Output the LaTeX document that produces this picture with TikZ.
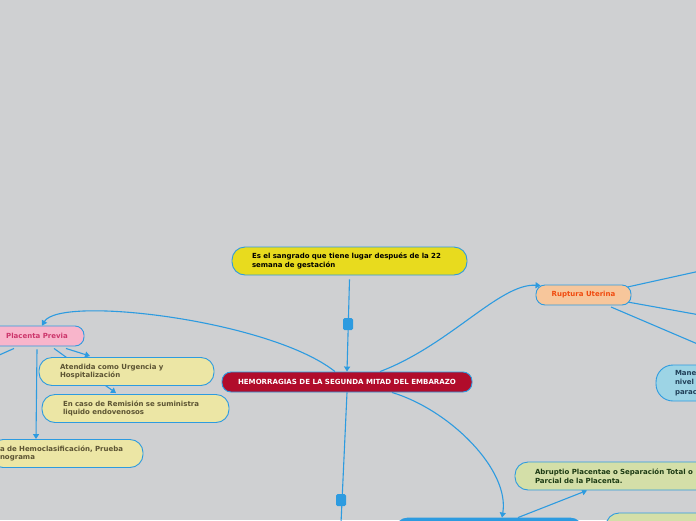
\documentclass[tikz,border=0pt]{standalone}
\usepackage{fontspec}
\setmainfont{DejaVu Sans}
\usetikzlibrary{arrows.meta,calc}
\definecolor{bgc}{HTML}{CFD0D2}
\definecolor{lb}{HTML}{2D9BE0}
\definecolor{yel}{HTML}{E8DB1E}
\definecolor{redm}{HTML}{B10C2B}
\definecolor{pinkf}{HTML}{F8B5CB}
\definecolor{pinkt}{HTML}{CC356B}
\definecolor{crem}{HTML}{ECE6A5}
\definecolor{cremt}{HTML}{5C5433}
\definecolor{orf}{HTML}{F7C69B}
\definecolor{ort}{HTML}{F04B0F}
\definecolor{bluf}{HTML}{9DD4E5}
\definecolor{blut}{HTML}{203F58}
\definecolor{grf}{HTML}{D4DFA8}
\definecolor{grt}{HTML}{1C3A13}
\pgfdeclarelayer{bgfill}
\pgfdeclarelayer{bgline}
\pgfsetlayers{bgfill,bgline,main}
\tikzset{
  box/.style={draw=lb, line width=0.9pt, inner ysep=0pt, align=left,
    font=\bfseries\fontsize{7}{8.5}\selectfont},
  tall/.style={minimum height=28pt, rounded corners=13pt},
  short/.style={minimum height=20pt, rounded corners=9pt, align=center},
  conn/.style={draw=lb, line width=1.1pt, -{Triangle[length=5pt,width=6pt]}},
  plain/.style={draw=lb, line width=1.1pt},
  marker/.style={fill=lb, draw=none, rounded corners=1.5pt, minimum width=10pt, minimum height=12pt, inner sep=0pt},
}
\begin{document}
\begin{tikzpicture}[x=1pt,y=-1pt]
\begin{pgfonlayer}{bgfill}
\fill[bgc] (0,0) rectangle (696,520);
\end{pgfonlayer}
\useasboundingbox (0,0) rectangle (696,520);

% nodes
\node[box,tall,fill=yel,text=black,inner xsep=20pt,text width=195pt] (yellow) at (349.5,261)
  {Es el sangrado que tiene lugar después de la 22\\semana de gestación};
\node[box,short,fill=redm,text=white,minimum width=250pt,font=\bfseries\fontsize{7.05}{8}\selectfont] (main) at (347,382)
  {HEMORRAGIAS DE LA SEGUNDA MITAD DEL EMBARAZO};
\node[box,short,fill=pinkf,text=pinkt,minimum width=94pt] (pp) at (37,336) {Placenta Previa};
\node[box,tall,fill=crem,text=cremt,inner xsep=21pt,text width=133pt] (aten) at (126.5,371.5)
  {Atendida como Urgencia y\\Hospitalización};
\node[box,tall,fill=crem,text=cremt,inner xsep=21pt,text width=145pt] (encaso) at (135.5,408.5)
  {En caso de Remisión se suministra\\liquido endovenosos};
\node[box,tall,fill=crem,text=cremt,inner xsep=10pt,text width=133pt] (hemo) at (66.5,453.5)
  {a de Hemoclasificación, Prueba\\nograma};
\node[box,short,fill=orf,text=ort,minimum width=95pt] (rupt) at (583.5,295) {Ruptura Uterina};
\node[box,fill=bluf,text=blut,minimum height=36pt,rounded corners=17pt,inner xsep=19pt,text width=42pt,font=\bfseries\fontsize{7}{9.5}\selectfont] (blue) at (696,383)
  {Mane\\nivel\\parac};
\node[box,tall,fill=grf,text=grt,inner xsep=20pt,text width=170pt] (abr) at (620,476)
  {Abruptio Placentae o Separación Total o\\Parcial de la Placenta.};
\node[box,tall,fill=grf,minimum width=150pt] (br) at (681,527) {};
\node[box,tall,fill=lb,minimum width=188pt] (bc) at (489,532) {};

\coordinate (belowmain) at (340,545);
\coordinate (ppleft) at (-12,360);
\coordinate (r1) at (700,271);
\coordinate (r2) at (700,315);
\coordinate (r3) at (700,345);

\begin{pgfonlayer}{bgline}
\draw[conn] ([yshift=-4pt]yellow.south) -- (main.north);
\draw[plain] (main.south) -- (belowmain);
\draw[conn] ([xshift=-12pt]main.north) .. controls (270,320) and (60,295) .. ([xshift=5pt]pp.north);
\draw[conn] ([xshift=33pt]main.north) .. controls (450,345) and (500,283) .. ($(rupt.north west)+(5,1)$);
\draw[conn] ([xshift=45pt]main.south) .. controls (450,410) and (510,470) .. ([xshift=13pt]bc.north);
\draw[conn] ([xshift=29pt]bc.north) -- ([xshift=-33pt]abr.south);
\draw[conn] ([xshift=29pt,yshift=-2pt]pp.south) -- ([xshift=-36.5pt,yshift=1pt]aten.north);
\draw[conn] ([xshift=17pt,yshift=-2pt]pp.south) -- ([xshift=-19.5pt,yshift=1pt]encaso.north);
\draw[conn] ([yshift=-3pt]pp.south) -- ([xshift=-30.5pt]hemo.north);
\draw[plain] ([xshift=-23pt,yshift=-2pt]pp.south) -- (ppleft);
\draw[plain] ([xshift=44pt,yshift=8pt]rupt.center) -- (r1);
\draw[plain] ([xshift=44pt,yshift=-7pt]rupt.center) -- (r2);
\draw[plain] ([xshift=27.5pt,yshift=-12pt]rupt.center) -- (r3);
\end{pgfonlayer}

\node[marker] (m1) at (348,324) {};
\node[marker] (m2) at (341,500) {};
\end{tikzpicture}
\end{document}
